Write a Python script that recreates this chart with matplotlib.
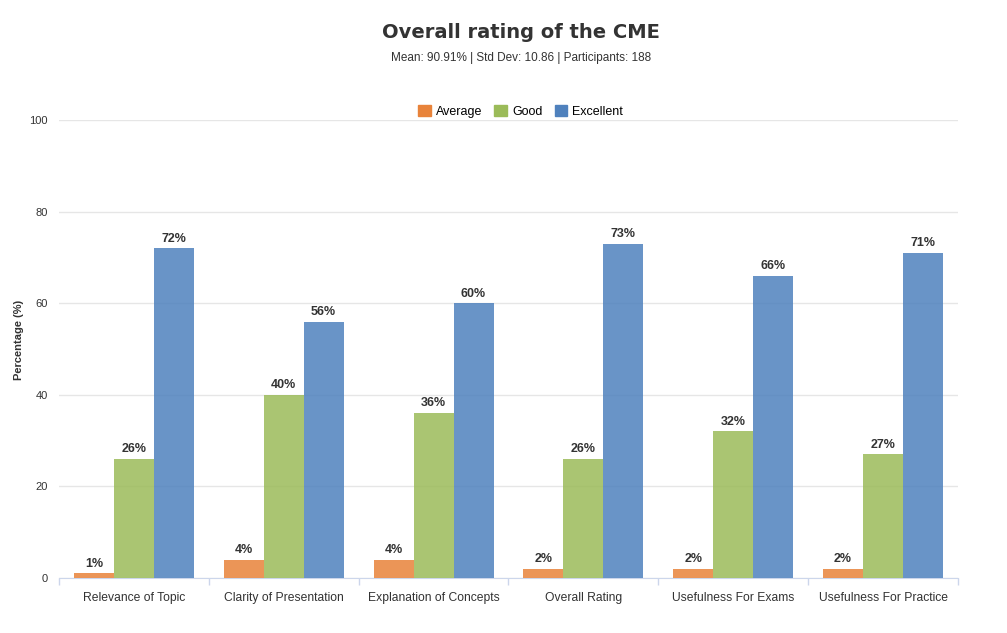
import matplotlib.pyplot as plt
import numpy as np

# Survey results for the CME overall rating.
CATEGORIES = [
    "Relevance of Topic",
    "Clarity of Presentation",
    "Explanation of Concepts",
    "Overall Rating",
    "Usefulness For Exams",
    "Usefulness For Practice",
]
AVERAGE = [1, 4, 4, 2, 2, 2]
GOOD = [26, 40, 36, 26, 32, 27]
EXCELLENT = [72, 56, 60, 73, 66, 71]

SERIES = [
    ("Average", AVERAGE, "#E8833A"),
    ("Good", GOOD, "#9BBB59"),
    ("Excellent", EXCELLENT, "#4F81BD"),
]

plt.rcParams["font.family"] = ["Liberation Sans", "DejaVu Sans"]

fig = plt.figure(figsize=(10.07, 6.33), dpi=100)
axis = fig.add_axes([0.0586, 0.0869, 0.8927, 0.7235])

x = np.arange(len(CATEGORIES))
bar_width = 0.8 / 3

handles = []
for index, (name, values, color) in enumerate(SERIES):
    offset = (index - 1) * bar_width
    bars = axis.bar(x + offset, values, width=bar_width, color=color, alpha=0.85,
                    linewidth=0, zorder=3)
    for bar, value in zip(bars, values):
        axis.text(bar.get_x() + bar.get_width() / 2, value + 0.8, f"{value}%",
                  ha="center", va="bottom", fontsize=9, fontweight="bold",
                  color="#333333")
    handles.append(plt.Rectangle((0, 0), 1, 1, color=color, label=name))

axis.set_xlim(-0.5, len(CATEGORIES) - 0.5)
axis.set_ylim(0, 100)
axis.set_yticks([0, 20, 40, 60, 80, 100])
axis.set_xticks(x)
axis.set_xticklabels(CATEGORIES, fontsize=8.7, color="#333333")
axis.tick_params(axis="x", length=0, pad=10)
axis.tick_params(axis="y", length=0, labelsize=8, colors="#333333", pad=8)

# category separators on the bottom axis
axis.set_xticks(np.arange(-0.5, len(CATEGORIES)), minor=True)
axis.tick_params(axis="x", which="minor", length=5, color="#ccd6eb", width=1,
                 direction="out")

axis.grid(axis="y", color="#e6e6e6", linewidth=1, zorder=0)
for side in ["top", "right", "left"]:
    axis.spines[side].set_visible(False)
axis.spines["bottom"].set_color("#ccd6eb")

axis.set_ylabel("Percentage (%)", fontsize=8, fontweight="bold", color="#333333")
axis.yaxis.set_label_coords(-0.039, 0.52)

fig.text(0.517, 0.949, "Overall rating of the CME", ha="center", va="center",
         fontsize=14, fontweight="heavy", color="#333333", family=["DejaVu Sans"])
fig.text(0.517, 0.909, "Mean: 90.91% | Std Dev: 10.86 | Participants: 188",
         ha="center", va="center", fontsize=8.5, color="#333333")

fig.legend(handles=handles, loc="center", bbox_to_anchor=(0.517, 0.824), ncol=3,
           frameon=False, fontsize=9, handlelength=1.0, handleheight=1.0,
           handletextpad=0.4, columnspacing=1.0)

fig.savefig("out.png", dpi=100)
